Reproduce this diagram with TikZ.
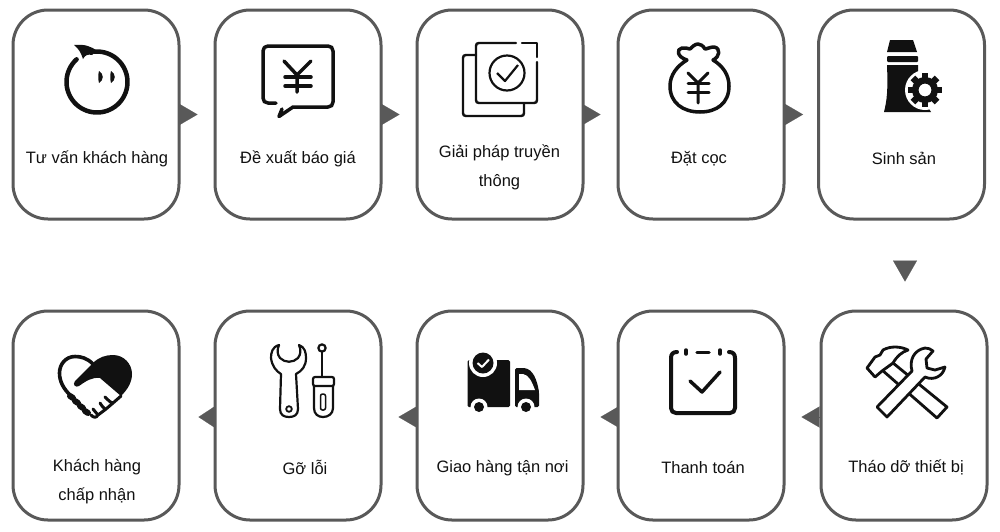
\documentclass[tikz,border=0pt]{standalone}
\usepackage{fontspec}
\setmainfont{Liberation Sans}
\usetikzlibrary{arrows.meta}
\definecolor{edge}{HTML}{595959}
\definecolor{ink}{HTML}{111111}
\tikzset{
  card/.style={draw=edge, line width=3pt, rounded corners=35pt, fill=white,
    minimum width=166pt, minimum height=209pt, inner sep=0pt},
  txt/.style={text=ink, font=\fontsize{16.5}{18}\selectfont, inner sep=0pt, anchor=base},
  flow/.style={edge, line width=.1pt, -{Triangle[length=18pt, width=21pt]}},
  ico/.style={ink, line width=3.5pt, line join=round, line cap=round},
  thin ico/.style={ink, line width=2.4pt, line join=round, line cap=round},
  out ico/.style={ink, line width=2.8pt, line join=round, fill=white},
}

\begin{document}
\begin{tikzpicture}[x=1pt, y=-1pt]
    \useasboundingbox (0, 0) rectangle (1000, 531);
    \fill[white] (0, 0) rectangle (1000, 531);
    \node[card] (tuvan) at (96, 114.5) {};
    \node[card] (dexuat) at (298, 114.5) {};
    \node[card] (giaiphap) at (500, 114.5) {};
    \node[card] (datcoc) at (701, 114.5) {};
    \node[card] (sinhsan) at (901.5, 114.5) {};
    \node[card] (khach) at (96, 415.5) {};
    \node[card] (goloi) at (298, 415.5) {};
    \node[card] (giao) at (500, 415.5) {};
    \node[card] (thanh) at (701, 415.5) {};
    \node[card] (thao) at (904, 415.5) {};
    \node[txt] (tuvant) at (97, 163) {Tư vấn khách hàng};
    \node[txt] (dexuatt) at (298, 163) {Đề xuất báo giá};
    \node[txt] (giaiphapt) at (499.5, 157) {Giải pháp truyền};
    \node[txt] (thongt) at (499.5, 186) {thông};
    \node[txt] (datcoct) at (699, 163) {Đặt cọc};
    \node[txt] (sinhsant) at (904, 164) {Sinh sản};
    \node[txt] (khacht) at (97, 471) {Khách hàng};
    \node[txt] (chapt) at (97, 500) {chấp nhận};
    \node[txt] (goloit) at (305, 474) {Gỡ lỗi};
    \node[txt] (giaot) at (502.5, 472) {Giao hàng tận nơi};
    \node[txt] (thanht) at (703, 473) {Thanh toán};
    \node[txt] (thaot) at (906, 472) {Tháo dỡ thiết bị};
    \draw[flow, shorten >=16pt] (tuvan) -- (dexuat);
    \draw[flow, shorten >=16pt] (dexuat) -- (giaiphap);
    \draw[flow, shorten >=16pt] (giaiphap) -- (datcoc);
    \draw[flow, shorten >=14pt] (datcoc) -- (sinhsan);
    \draw[flow, shorten <=41pt, shorten >=28pt, -{Triangle[length=21pt, width=24pt]}]
      ([xshift=1pt]thao.north |- sinhsan.south) -- ([xshift=1pt]thao.north);
    \draw[flow, shorten >=16pt] ([yshift=-1.5pt]thao.west) -- ([yshift=-1.5pt]thanh.east);
    \draw[flow, shorten >=16pt] ([yshift=-1.5pt]thanh.west) -- ([yshift=-1.5pt]giao.east);
    \draw[flow, shorten >=16pt] ([yshift=-1.5pt]giao.west) -- ([yshift=-1.5pt]goloi.east);
    \draw[flow, shorten >=18pt, -{Triangle[length=16pt, width=21pt]}]
      ([yshift=-1.5pt]goloi.west) -- ([yshift=-1.5pt]khach.east);
    % tu van
    \draw[ico, line width=4.5pt] (97, 82) ++(132:30.5pt) arc[start angle=132, end angle=455, radius=30.5pt];
    \fill[ink] (74, 45) .. controls (84, 44) and (91, 46) .. (97, 51)
      -- (92, 55) .. controls (88, 54) and (85, 55) .. (83, 59)
      .. controls (81, 53) and (79, 49) .. (74, 45) -- cycle;
    \foreach \ex in {100, 112}
      \fill[ink] (\ex-1, 71) .. controls (\ex+4, 74) and (\ex+4, 80) .. (\ex-1, 83)
        .. controls (\ex-2, 79) and (\ex-2, 75) .. (\ex-1, 71) -- cycle;
    % de xuat
    \draw[ico] (276, 103) -- (268, 103) .. controls (265, 103) and (263, 101) .. (263, 98)
      -- (263, 51) .. controls (263, 48) and (265, 46) .. (268, 46)
      -- (328, 46) .. controls (331, 46) and (333, 48) .. (333, 51)
      -- (333, 102) .. controls (333, 105) and (331, 107) .. (328, 107)
      -- (293, 107) -- (279, 116.5) -- (282, 109);
    \draw[ico] (284, 61) -- (297, 75) -- (311, 61) (297, 75) -- (297, 92);
    \draw[ico] (285, 77) -- (311, 77) (285, 86) -- (311, 86);
    % giai phap
    \draw[thin ico] (476, 55) -- (466, 55) .. controls (464, 55) and (463, 56) .. (463, 58)
      -- (463, 113) .. controls (463, 115) and (464, 116) .. (466, 116)
      -- (521, 116) .. controls (523, 116) and (524, 115) .. (524, 113) -- (524, 104);
    \draw[thin ico] (516, 43) -- (479, 43) .. controls (477, 43) and (476, 44) .. (476, 46)
      -- (476, 100) .. controls (476, 102) and (477, 103) .. (479, 103)
      -- (534, 103) .. controls (536, 103) and (537, 102) .. (537, 100) -- (537, 62);
    \draw[thin ico] (522, 43) -- (537, 43) -- (537, 57);
    \draw[ink, line width=2.2pt] (507, 73) circle (17.5pt);
    \draw[ink, line width=2.2pt, line join=round] (497, 73) -- (505, 81) -- (518, 65);
    % dat coc
    \draw[ico] (687, 60) .. controls (677, 66) and (670, 75) .. (670, 86)
      .. controls (670, 103) and (683, 112) .. (700, 112)
      .. controls (717, 112) and (729, 103) .. (729, 86)
      .. controls (729, 75) and (723, 66) .. (713, 60)
      .. controls (720, 57) and (721, 48) .. (714, 47)
      .. controls (710, 47) and (707, 49) .. (705, 49)
      .. controls (703, 46) and (701, 44) .. (698, 44)
      .. controls (695, 44) and (692, 47) .. (690, 49)
      .. controls (688, 49) and (685, 47) .. (682, 48)
      .. controls (676, 49) and (677, 57) .. (687, 60);
    \draw[ico, line width=3pt] (688, 73) -- (698, 83) -- (708, 73) (698, 83) -- (698, 103);
    \draw[ico, line width=3pt] (688, 83) -- (709, 83) (688, 92) -- (709, 92);
    % sinh san
    \fill[ink] (890, 40) -- (913, 40) -- (917, 52) -- (887, 52) -- cycle;
    \fill[ink, rounded corners=1pt] (887, 56) rectangle (918, 62);
    \fill[ink] (887, 65) -- (918, 65) -- (918, 90) -- (931, 112) -- (884, 112)
      .. controls (887, 100) and (888, 90) .. (887, 65) -- cycle;
    \fill[white] (925, 90) circle (20pt);
    \foreach \a in {0, 45, ..., 315}
      \draw[ink, line width=6.5pt] (925, 90) ++(\a:9pt) -- ++(\a:8pt);
    \draw[ink, line width=6.5pt] (925, 90) circle (9.75pt);
    % khach hang
    \fill[ink] (93, 363) .. controls (99, 357) and (106, 355) .. (113, 355)
      .. controls (124, 355) and (132, 364) .. (132, 374)
      .. controls (132, 382) and (128, 389) .. (121, 396)
      -- (100, 378) .. controls (92, 377) and (86, 381) .. (79, 386)
      .. controls (76, 388) and (72, 385) .. (75, 381) -- cycle;
    \draw[ink, line width=3.6pt, line join=round] (93, 364) .. controls (87, 358) and (81, 356.5) .. (75, 356.5)
      .. controls (66, 356.5) and (59.5, 364) .. (59.5, 373)
      .. controls (59.5, 382) and (64, 389) .. (70, 395);
    \draw[ink, line width=3pt, line join=round, line cap=round] (121, 396) -- (113, 403)
      .. controls (111, 403) and (108, 400) .. (105, 397)
      (113, 403) -- (106, 409) .. controls (104, 409) and (102, 406) .. (100, 403)
      (106, 409) -- (98, 415) .. controls (96, 413) and (95, 411) .. (93, 409)
      (98, 415) .. controls (96, 418) and (94, 418) .. (91, 415);
    \foreach \fx/\fy in {70/396, 75/401, 80/406, 85/411}
      \draw[ink, line width=6pt, line cap=round] (\fx, \fy) -- ++(3, 2);
    % go loi
    \draw[ink, line width=2.2pt, line join=round] (279, 345)
      .. controls (272, 347) and (271, 353) .. (271, 358)
      .. controls (272, 366) and (276, 371) .. (281, 374)
      -- (280, 409) .. controls (280, 415) and (284, 417) .. (289, 417)
      .. controls (294, 417) and (298, 415) .. (298, 409)
      -- (296, 374) .. controls (302, 371) and (306, 366) .. (306, 358)
      .. controls (306, 353) and (305, 347) .. (299, 345)
      .. controls (301, 350) and (301, 354) .. (298, 358)
      .. controls (293, 363) and (285, 363) .. (280, 358)
      .. controls (277, 354) and (277, 350) .. (279, 345) -- cycle;
    \draw[ink, line width=1.8pt] (289, 409) circle (2.8pt);
    \draw[ink, line width=2.2pt] (322, 348) circle (3.6pt);
    \draw[ink, line width=2.2pt] (322, 352) -- (322, 377);
    \draw[ink, line width=2.2pt, rounded corners=2pt] (313, 377) -- (334, 377) -- (334, 386)
      -- (313, 386) -- cycle;
    \draw[ink, line width=2.2pt, line join=round] (314, 386) -- (314, 408)
      .. controls (314, 414) and (318, 417) .. (323, 417)
      .. controls (328, 417) and (333, 414) .. (333, 408) -- (333, 386);
    \draw[ink, line width=1.5pt, rounded corners=2pt] (320.5, 394) rectangle (325.5, 410);
    % giao hang
    \fill[ink, rounded corners=1.5pt] (467.5, 360) rectangle (510, 407);
    \fill[ink, rounded corners=1.5pt] (515, 368) -- (523, 368)
      .. controls (533, 369) and (537, 380) .. (539, 392) -- (539, 407) -- (515, 407) -- cycle;
    \fill[white] (519, 374) -- (523, 374) .. controls (529, 375) and (532, 382) .. (535, 390)
      -- (519, 390) -- cycle;
    \fill[white] (483, 363) circle (14pt);
    \fill[ink] (483, 363) circle (10.5pt);
    \draw[white, line width=2pt, line join=round] (477.5, 363) -- (482, 367) -- (489, 359.5);
    \foreach \wx in {479, 526} {
      \fill[white] (\wx, 407) circle (8.5pt);
      \fill[ink] (\wx, 407) circle (5pt);
    }
    % thanh toan
    \draw[ico, line width=4pt] (677, 352) .. controls (673, 352) and (671, 354) .. (671, 358)
      -- (671, 408) .. controls (671, 411) and (673, 413) .. (676, 413)
      -- (730, 413) .. controls (733, 413) and (735, 411) .. (735, 408)
      -- (735, 358) .. controls (735, 354) and (733, 352) .. (729, 352);
    \draw[ico] (686, 350) -- (686, 354) (720, 350) -- (720, 354) (697, 352.5) -- (709, 352.5);
    \draw[ico, line width=3.5pt] (690, 381) -- (702, 392) -- (720, 372);
    % thao do
    \draw[out ico] (893, 363) -- (947, 407) -- (937, 418) -- (882, 370) -- cycle;
    \draw[out ico] (867, 368) -- (875, 357) -- (880, 355) -- (883, 350)
      .. controls (890, 346) and (900, 346) .. (908, 350)
      .. controls (902, 352) and (897, 356) .. (893, 363)
      -- (882, 371) -- (875, 377) -- cycle;
    \draw[out ico] (877, 407) -- (912, 371)
      .. controls (909, 360) and (914, 350) .. (925, 348)
      .. controls (928, 348) and (931, 349) .. (933, 351)
      -- (926, 359) -- (927, 368) -- (935, 370) -- (945, 367)
      .. controls (943, 376) and (934, 381) .. (925, 377)
      -- (887, 417) -- cycle;
  \end{tikzpicture}
\end{document}
